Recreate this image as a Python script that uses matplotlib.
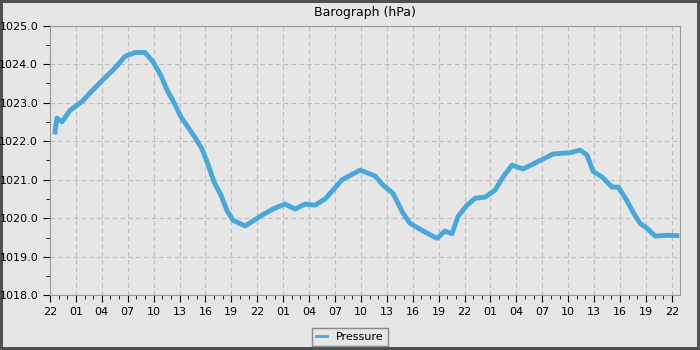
from datetime import datetime, timedelta
import matplotlib
matplotlib.use('Agg')
import matplotlib.pyplot as plt
import matplotlib.dates as mdates
from matplotlib.ticker import MultipleLocator, FormatStrFormatter

# hours since 22:00 on the first day
hours = [0.58, 0.81, 1.39, 2.32, 3.82, 4.63, 6.02, 7.53, 8.69, 9.84, 11.0,
         11.93, 12.85, 13.55, 14.36, 15.17, 15.87, 16.79, 17.6, 18.3,
         19.0, 19.8, 20.5, 21.19, 22.58, 24.55, 25.83, 27.2, 28.37, 29.53,
         30.69, 31.85, 32.77, 33.82, 35.9, 37.64, 38.56, 39.72, 40.88, 41.69,
         43.2, 44.82, 45.74, 46.55, 47.25, 48.29, 49.22, 50.38, 51.53, 52.46,
         53.5, 54.77, 56.4, 58.25, 60.22, 61.38, 62.19, 62.88, 63.93, 65.08,
         65.78, 66.7, 67.52, 68.33, 69.14, 70.07, 71.57, 72.6]
pressure = [1022.24, 1022.6, 1022.5, 1022.8, 1023.05, 1023.25, 1023.57, 1023.9,
            1024.2, 1024.3, 1024.3, 1024.06, 1023.7, 1023.33, 1023.0, 1022.63,
            1022.4, 1022.1, 1021.8, 1021.4, 1020.94, 1020.6, 1020.2,
            1019.95, 1019.8, 1020.08, 1020.24, 1020.37, 1020.24, 1020.37,
            1020.34, 1020.5, 1020.73, 1021.0, 1021.25, 1021.1, 1020.86, 1020.65,
            1020.13, 1019.87, 1019.67, 1019.48, 1019.67, 1019.6, 1020.05,
            1020.34, 1020.52, 1020.55, 1020.73, 1021.07, 1021.38, 1021.28,
            1021.46, 1021.67, 1021.7, 1021.77, 1021.64, 1021.22, 1021.07,
            1020.81, 1020.81, 1020.5, 1020.16, 1019.87, 1019.74, 1019.54,
            1019.56, 1019.55]

start = datetime(2024, 3, 1, 22, 0)
times = [start + timedelta(hours=h) for h in hours]

bg = '#e6e6e6'
fig = plt.figure(figsize=(7, 3.5), dpi=100, facecolor=bg,
                 edgecolor='#505050', linewidth=3)
ax = fig.add_axes([0.0714, 0.156, 0.9, 0.771])
ax.set_facecolor(bg)

ax.plot(times, pressure, color='#4aa8d9', linewidth=3.5, label='Pressure')

ax.set_xlim(start, start + timedelta(hours=72.95))
ax.set_ylim(1018, 1025)
ax.xaxis.set_major_locator(mdates.HourLocator(byhour=range(1, 24, 3)))
ax.xaxis.set_minor_locator(mdates.HourLocator())
ax.xaxis.set_major_formatter(mdates.DateFormatter('%H'))
ax.yaxis.set_major_locator(MultipleLocator(1))
ax.yaxis.set_minor_locator(MultipleLocator(0.5))
ax.yaxis.set_major_formatter(FormatStrFormatter('%.1f'))

for s in ax.spines.values():
    s.set_color('#999999')
ax.tick_params(which='major', length=5, labelsize=8, color='black')
ax.tick_params(which='minor', length=3, color='black')
ax.grid(True, which='major', color='#bdbdbd', linestyle=(0, (4, 3)), linewidth=0.8)
ax.set_axisbelow(True)

ax.set_title('Barograph (hPa)', fontsize=9, pad=7)
leg = fig.legend(loc='center', bbox_to_anchor=(0.5, 0.037), fontsize=8,
                 fancybox=False, edgecolor='#888888', facecolor=bg, framealpha=1,
                 handlelength=1.0)
leg.get_lines()[0].set_linewidth(2)

fig.savefig('out.png', facecolor=bg, edgecolor='#505050')
